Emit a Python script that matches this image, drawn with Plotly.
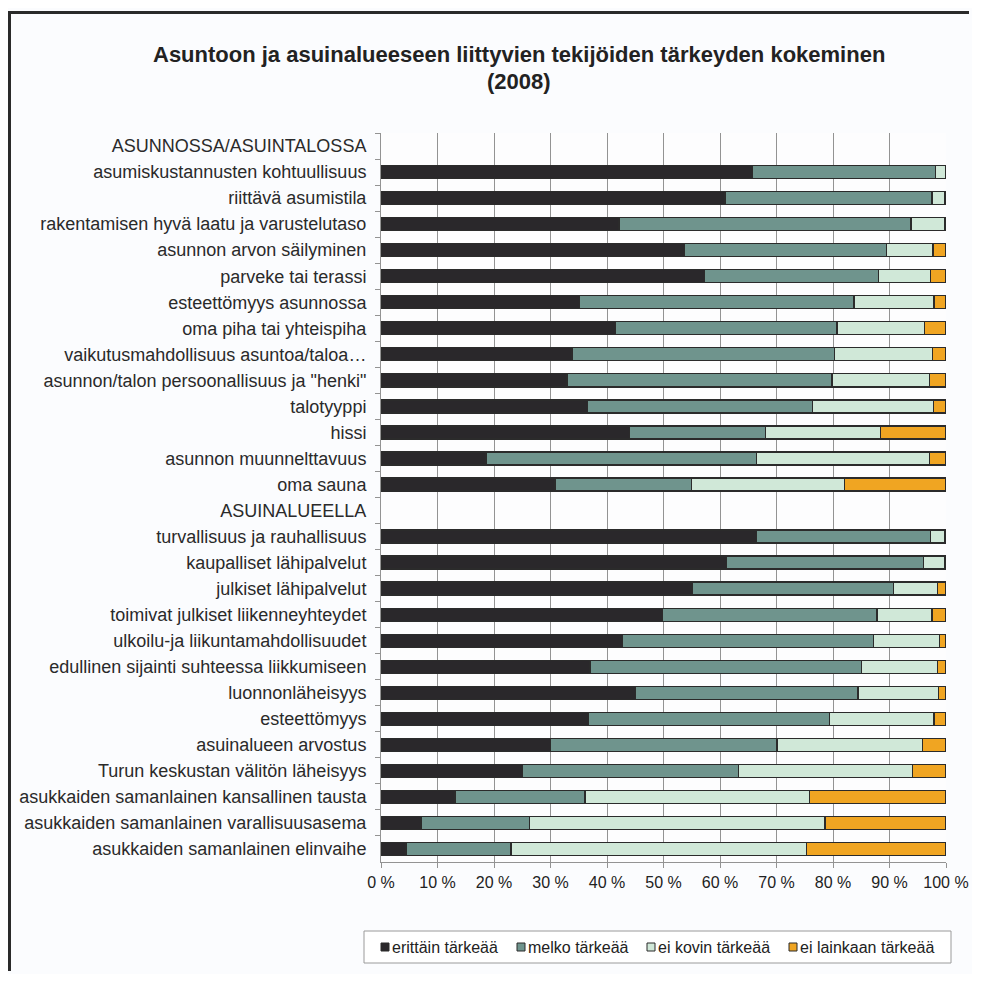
import plotly.graph_objects as go

categories = [
    "ASUNNOSSA/ASUINTALOSSA",
    "asumiskustannusten kohtuullisuus",
    "riittävä asumistila",
    "rakentamisen hyvä laatu ja varustelutaso",
    "asunnon arvon säilyminen",
    "parveke tai terassi",
    "esteettömyys asunnossa",
    "oma piha tai yhteispiha",
    "vaikutusmahdollisuus asuntoa/taloa…",
    "asunnon/talon persoonallisuus ja \"henki\"",
    "talotyyppi",
    "hissi",
    "asunnon muunnelttavuus",
    "oma sauna",
    "ASUINALUEELLA",
    "turvallisuus ja rauhallisuus",
    "kaupalliset lähipalvelut",
    "julkiset lähipalvelut",
    "toimivat julkiset liikenneyhteydet",
    "ulkoilu-ja liikuntamahdollisuudet",
    "edullinen sijainti suhteessa liikkumiseen",
    "luonnonläheisyys",
    "esteettömyys",
    "asuinalueen arvostus",
    "Turun keskustan välitön läheisyys",
    "asukkaiden samanlainen kansallinen tausta",
    "asukkaiden samanlainen varallisuusasema",
    "asukkaiden samanlainen elinvaihe",
]

erittain = [None, 65.7, 60.9, 42.1, 53.7, 57.3, 35.1, 41.5, 33.8, 32.9, 36.5, 44.0, 18.6, 30.8,
            None, 66.5, 61.1, 55.1, 49.8, 42.7, 37.0, 45.1, 36.7, 30.0, 25.1, 13.1, 7.1, 4.4]
melko = [None, 32.5, 36.6, 51.7, 35.8, 30.7, 48.6, 39.2, 46.5, 46.9, 39.9, 24.1, 47.8, 24.1,
         None, 30.7, 34.9, 35.6, 38.0, 44.5, 48.0, 39.3, 42.7, 40.1, 38.2, 23.0, 19.2, 18.6]
ei_kovin = [None, 1.8, 2.3, 5.9, 8.2, 9.3, 14.2, 15.5, 17.3, 17.3, 21.4, 20.3, 30.7, 27.1,
            None, 2.6, 3.8, 7.8, 9.7, 11.7, 13.5, 14.3, 18.5, 25.7, 30.8, 39.7, 52.3, 52.3]
ei_lainkaan = [None, 0.0, 0.2, 0.3, 2.3, 2.7, 2.1, 3.8, 2.4, 2.9, 2.2, 11.6, 2.9, 18.0,
               None, 0.2, 0.2, 1.5, 2.5, 1.1, 1.5, 1.3, 2.1, 4.2, 5.9, 24.2, 21.4, 24.7]

series_names = ["erittäin tärkeää", "melko tärkeää", "ei kovin tärkeää", "ei lainkaan tärkeää"]
series_values = [erittain, melko, ei_kovin, ei_lainkaan]
colors = ["#2a282b", "#6f948d", "#d0e8d8", "#f0a522"]

title_line1 = "Asuntoon ja asuinalueeseen liittyvien tekijöiden tärkeyden kokeminen"
title_line2 = "(2008)"

fig = go.Figure()
for name, vals, col in zip(series_names, series_values, colors):
    fig.add_trace(go.Bar(
        y=categories, x=vals, name=name, orientation="h",
        marker=dict(color=col, line=dict(color="#2b2b2b", width=1.3)),
        showlegend=False,
    ))

# page body has an 8px margin; figure coordinates = screen - 8
OFF = 8
W, H = 964, 966
L, R, T, B = 381 - OFF, W - (946 - OFF), 133 - OFF, H - (862 - OFF)
pw, ph = W - L - R, H - T - B


def px_x(sx):
    return (sx - OFF - L) / pw


def px_y(sy):
    return 1 - (sy - OFF - T) / ph


shapes = [
    dict(type="line", xref="paper", yref="paper",
         x0=px_x(10), x1=px_x(W + OFF - 3), y0=px_y(12.5), y1=px_y(12.5),
         line=dict(color="#2a2a2a", width=3), layer="below"),
    dict(type="line", xref="paper", yref="paper",
         x0=px_x(9.5), x1=px_x(9.5), y0=px_y(11), y1=px_y(H + OFF - 3),
         line=dict(color="#2a2a2a", width=3), layer="below"),
    # legend box
    dict(type="rect", xref="paper", yref="paper",
         x0=px_x(364), x1=px_x(951), y0=px_y(963), y1=px_y(931),
         line=dict(color="#9a9a9a", width=1), fillcolor="#ffffff", layer="above"),
]
annotations = [
    dict(text="<b>" + title_line1 + "</b>", xref="paper", yref="paper",
         x=px_x(519), y=px_y(54), xanchor="center", yanchor="middle",
         showarrow=False, font=dict(size=22, color="#222222")),
    dict(text="<b>" + title_line2 + "</b>", xref="paper", yref="paper",
         x=px_x(519), y=px_y(81), xanchor="center", yanchor="middle",
         showarrow=False, font=dict(size=22, color="#222222")),
]

# manual legend, entries from the series names and colours
legend_x = [381, 517, 647, 789]
legend_y = 947
for lx, name, col in zip(legend_x, series_names, colors):
    shapes.append(dict(
        type="rect", xref="paper", yref="paper",
        x0=px_x(lx), x1=px_x(lx + 8), y0=px_y(legend_y + 4), y1=px_y(legend_y - 4),
        line=dict(color="#2b2b2b", width=1), fillcolor=col, layer="above"))
    annotations.append(dict(
        text=name, xref="paper", yref="paper",
        x=px_x(lx + 9), y=px_y(legend_y), xanchor="left", yanchor="middle",
        showarrow=False, font=dict(size=16, color="#222222")))

fig.update_layout(
    width=W, height=H,
    margin=dict(l=L, r=R, t=T, b=B, autoexpand=False),
    barmode="stack",
    bargap=0.5,
    paper_bgcolor="#fbfcfe",
    plot_bgcolor="#fdfdfe",
    font=dict(family="Liberation Sans, Arial, sans-serif", color="#222222", size=18),
    showlegend=False,
    shapes=shapes,
    annotations=annotations,
)

fig.update_xaxes(
    range=[0, 100], dtick=10, ticksuffix=" %",
    showgrid=True, gridcolor="#939393", gridwidth=1,
    showline=True, linecolor="#939393", linewidth=1,
    ticks="outside", ticklen=5, tickcolor="#939393",
    tickfont=dict(size=16), zeroline=False, ticklabelstandoff=1,
)
fig.update_yaxes(
    categoryorder="array", categoryarray=categories, autorange="reversed",
    showline=True, linecolor="#939393", linewidth=1,
    ticks="outside", ticklen=5, tickcolor="#939393", tickson="boundaries",
    tickfont=dict(size=18, color="#2a2a2a"), showgrid=False, ticklabelstandoff=10,
)

fig.write_html("out.html")
